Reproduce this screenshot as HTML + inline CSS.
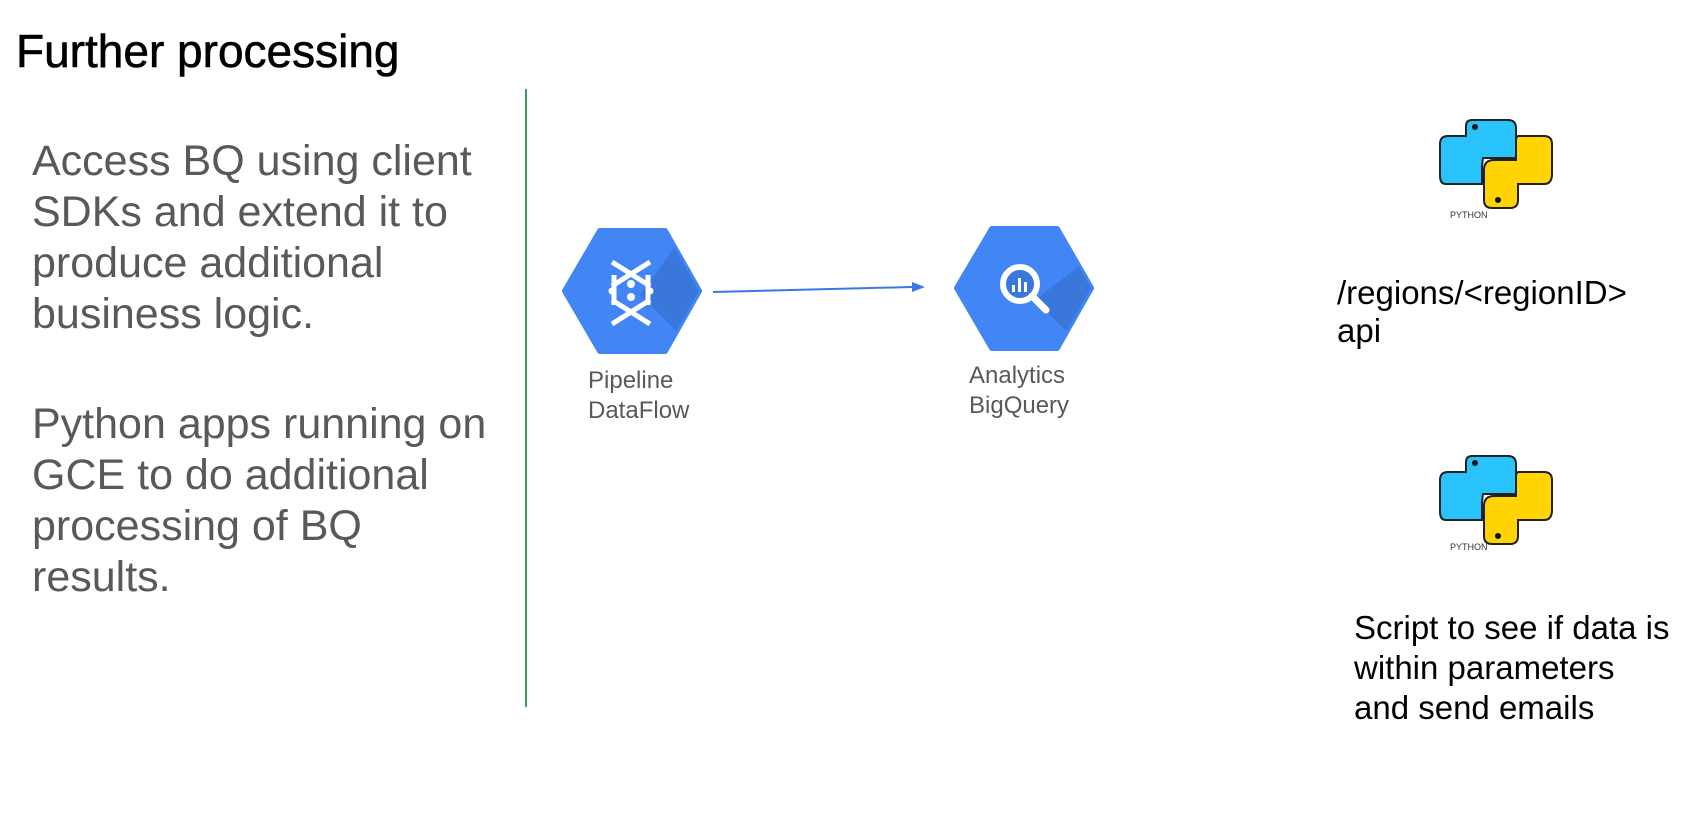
<!DOCTYPE html>
<html><head><meta charset="utf-8"><style>
body{margin:0;width:1701px;height:839px;background:#fff;position:relative;overflow:hidden;font-family:"Liberation Sans",Arial,sans-serif}
.a{position:absolute;white-space:nowrap}
</style></head><body>
<div class="a" style="left:16px;top:24px;font-size:46px;color:#000;-webkit-text-stroke:0.6px #000">Further processing</div>
<div class="a" style="left:32px;top:136px;font-size:43px;line-height:51px;color:#595959">Access BQ using client<br>SDKs and extend it to<br>produce additional<br>business logic.</div>
<div class="a" style="left:32px;top:399px;font-size:43px;line-height:51px;color:#595959">Python apps running on<br>GCE to do additional<br>processing of BQ<br>results.</div>
<div class="a" style="left:525px;top:89px;width:2px;height:618px;background:#3a9a5a"></div>
<svg class="a" style="left:0;top:0" width="1701" height="839">
<defs><clipPath id="h1"><path d="M600,231H665L699,291L665,351H600L565,291Z"/></clipPath>
<clipPath id="h2"><path d="M992,229H1057L1091,288L1057,348H992L957,288Z"/></clipPath></defs>
<path d="M600,231H665L699,291L665,351H600L565,291Z" fill="#4285f4" stroke="#4285f4" stroke-width="6" stroke-linejoin="round"/>
<path d="M640,295L720,375L720,200L680,240Z" fill="#3a77db" clip-path="url(#h1)"/>
<g stroke="#fff" stroke-width="5" fill="none">
<path d="M612,262L650,286M650,262L612,286M612,300L650,324M650,300L612,324"/>
<path d="M614,275V305M648,275V305"/></g>
<g fill="#fff"><circle cx="631" cy="284" r="4"/><circle cx="631" cy="297" r="4"/><circle cx="612" cy="291" r="3.5"/><circle cx="650" cy="291" r="3.5"/></g>
<path d="M713,292L912,287" stroke="#3b78e7" stroke-width="2"/>
<path d="M925,287L912,282L912,292Z" fill="#3b78e7"/>
<path d="M992,229H1057L1091,288L1057,348H992L957,288Z" fill="#4285f4" stroke="#4285f4" stroke-width="6" stroke-linejoin="round"/>
<path d="M1035,300L1100,365L1100,250Z" fill="#3a77db" clip-path="url(#h2)"/>
<circle cx="1020" cy="284" r="17" fill="#3a77db" stroke="#fff" stroke-width="6"/>
<path d="M1032,296L1046,310" stroke="#fff" stroke-width="7" stroke-linecap="round"/>
<g fill="#fff"><rect x="1012" y="285" width="3" height="7"/><rect x="1018" y="278" width="3" height="14"/><rect x="1024" y="282" width="3" height="10"/></g>
<g transform="translate(1438,118)" stroke="#222" stroke-width="2">
<path d="M34,2H70Q78,2 78,10V40H45Q44,46 44,52V66H8Q2,66 2,58V26Q2,18 10,18H28V8Q28,2 34,2Z" fill="#27c3fa"/>
<path d="M80,18H106Q114,18 114,26V56Q114,66 106,66H80V82Q80,90 72,90H54Q46,90 46,82V52Q46,42 56,42H78V20Z" fill="#ffd402"/>
<circle cx="37" cy="9" r="3" fill="#111" stroke="none"/><circle cx="60" cy="82" r="3" fill="#111" stroke="none"/>
</g>
<text x="1450" y="218" font-size="9" fill="#333" font-family="Liberation Sans">PYTHON</text>
<g transform="translate(1438,454)" stroke="#222" stroke-width="2">
<path d="M34,2H70Q78,2 78,10V40H45Q44,46 44,52V66H8Q2,66 2,58V26Q2,18 10,18H28V8Q28,2 34,2Z" fill="#27c3fa"/>
<path d="M80,18H106Q114,18 114,26V56Q114,66 106,66H80V82Q80,90 72,90H54Q46,90 46,82V52Q46,42 56,42H78V20Z" fill="#ffd402"/>
<circle cx="37" cy="9" r="3" fill="#111" stroke="none"/><circle cx="60" cy="82" r="3" fill="#111" stroke="none"/>
</g>
<text x="1450" y="550" font-size="9" fill="#333" font-family="Liberation Sans">PYTHON</text>
</svg>
<div class="a" style="left:588px;top:366px;font-size:24px;line-height:30px;color:#595959">Pipeline<br>DataFlow</div>
<div class="a" style="left:969px;top:361px;font-size:24px;line-height:30px;color:#595959">Analytics<br>BigQuery</div>
<div class="a" style="left:1337px;top:274px;font-size:33px;line-height:38px;color:#000">/regions/&lt;regionID&gt;<br>api</div>
<div class="a" style="left:1354px;top:608px;font-size:33px;line-height:40px;color:#000">Script to see if data is<br>within parameters<br>and send emails</div>
</body></html>
